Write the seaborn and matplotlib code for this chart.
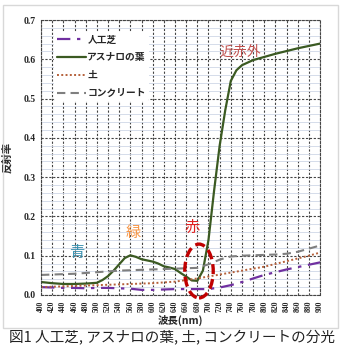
import numpy as np
import pandas as pd
import matplotlib
matplotlib.use('Agg')
import matplotlib.pyplot as plt
import seaborn as sns
from matplotlib.patches import Ellipse, Rectangle
from matplotlib.ticker import MultipleLocator

# data
wl = [400, 420, 440, 460, 480, 500, 520, 540, 560, 580, 600, 620, 640,
      660, 680, 700, 720, 740, 760, 780, 800, 820, 840, 860, 880, 900]
turf = [0.020, 0.019, 0.018, 0.018, 0.017, 0.018, 0.018, 0.017, 0.016, 0.013, 0.013, 0.014, 0.015,
        0.015, 0.015, 0.015, 0.019, 0.025, 0.033, 0.042, 0.051, 0.058, 0.065, 0.071, 0.077, 0.083]
soil = [0.020, 0.021, 0.022, 0.023, 0.024, 0.025, 0.026, 0.027, 0.028, 0.029, 0.030, 0.032, 0.034,
        0.038, 0.042, 0.047, 0.052, 0.057, 0.062, 0.067, 0.072, 0.079, 0.086, 0.093, 0.100, 0.108]
concrete = [0.051, 0.052, 0.053, 0.054, 0.056, 0.058, 0.060, 0.062, 0.063, 0.064, 0.065, 0.066, 0.067,
            0.068, 0.069, 0.078, 0.090, 0.098, 0.100, 0.101, 0.102, 0.103, 0.105, 0.110, 0.118, 0.126]

wl_leaf = [400, 420, 440, 460, 480, 500, 510, 520, 530, 540, 550, 560, 570, 580, 590, 600, 610,
           620, 630, 640, 650, 660, 670, 680, 690, 700, 710, 720, 730, 740, 750, 760, 780,
           800, 820, 840, 860, 880, 900]
leaf = [0.033, 0.030, 0.028, 0.028, 0.029, 0.031, 0.038, 0.048, 0.062, 0.078, 0.094, 0.101, 0.097,
        0.091, 0.088, 0.085, 0.080, 0.073, 0.070, 0.066, 0.056, 0.047, 0.037, 0.036, 0.062, 0.140,
        0.265, 0.380, 0.470, 0.545, 0.572, 0.585, 0.598, 0.606, 0.614, 0.621, 0.628, 0.634, 0.640]

labels = ['人工芝', 'アスナロの葉', '土', 'コンクリート']

sns.set_style('white')
plt.rcParams['font.family'] = ['Noto Sans CJK JP', 'DejaVu Sans']

fig = plt.figure(figsize=(3.42, 3.45), dpi=100)
ax = fig.add_axes([0.12, 0.145, 0.816, 0.797])

# outer light border of the figure
fig.patches.append(Rectangle((0.009, 0.049), 0.98, 0.936, transform=fig.transFigure,
                             fill=False, edgecolor='#d8d8d8', linewidth=1.0))

df_other = pd.DataFrame({'wl': wl, 'turf': turf, 'soil': soil, 'concrete': concrete})
df_leaf = pd.DataFrame({'wl': wl_leaf, 'leaf': leaf})

sns.lineplot(data=df_other, x='wl', y='turf', ax=ax, color='#7030a0', lw=1.6,
             linestyle=(0, (6, 3, 1.5, 3)), label=labels[0])
sns.lineplot(data=df_leaf, x='wl', y='leaf', ax=ax, color='#3b5a22', lw=1.6, label=labels[1])
sns.lineplot(data=df_other, x='wl', y='soil', ax=ax, color='#b5603a', lw=1.4,
             linestyle=(0, (1, 1.2)), label=labels[2])
sns.lineplot(data=df_other, x='wl', y='concrete', ax=ax, color='#7f7f7f', lw=1.5,
             linestyle=(0, (4, 2.5)), label=labels[3])

ax.set_xlim(400, 900)
ax.set_ylim(0, 0.7)
ax.xaxis.set_major_locator(MultipleLocator(20))
ax.yaxis.set_major_locator(MultipleLocator(0.1))
ax.yaxis.set_minor_locator(MultipleLocator(0.02))
ax.grid(which='minor', axis='y', color='#cfd7e6', lw=0.6, linestyle='-')
ax.grid(which='major', axis='both', color='#444444', lw=0.8, linestyle=(0, (2, 1.5)))
ax.set_axisbelow(True)
for s in ax.spines.values():
    s.set_color('#444444')
    s.set_linewidth(0.8)
    s.set_linestyle((0, (2, 1.5)))

ax.set_xticks(wl)
ax.set_xticklabels([str(w) for w in wl], rotation=90, fontsize=5.5,
                   family='Liberation Serif', fontweight='bold')
ax.set_yticks([0, 0.1, 0.2, 0.3, 0.4, 0.5, 0.6, 0.7])
ax.set_yticklabels(['0.0', '0.1', '0.2', '0.3', '0.4', '0.5', '0.6', '0.7'], fontsize=7,
                   family='Liberation Serif', fontweight='bold')
ax.tick_params(axis='both', which='both', length=0, pad=4)

ax.set_xlabel('波長(nm)', fontsize=7.5, fontweight='bold', labelpad=2)
ax.set_ylabel('反射率', fontsize=7.5, fontweight='bold', labelpad=8)

leg = ax.legend(loc='upper left', bbox_to_anchor=(0.03, 0.975), frameon=True, framealpha=1,
                edgecolor='none', handlelength=3.0, handletextpad=0.1,
                labelspacing=0.8, borderpad=0.3, prop={'weight': 'bold', 'size': 7})

# region annotations
ax.text(757, 0.619, '近赤外', color='#c0504d', fontsize=10, ha='center', va='center', zorder=6)
ax.text(464, 0.107, '青', color='#3b91b0', fontsize=11, ha='center', va='center', zorder=6)
ax.text(565, 0.158, '緑', color='#f79646', fontsize=11, ha='center', va='center', zorder=6)
ax.text(670, 0.173, '赤', color='#e02020', fontsize=11, ha='center', va='center', zorder=6)
ax.add_patch(Ellipse((683, 0.061), 51, 0.137, fill=False, edgecolor='#c00000', lw=2.4,
                     linestyle=(0, (3, 1.5)), clip_on=False, zorder=5))

fig.text(0.025, 0.025, '図1 人工芝, アスナロの葉, 土, コンクリートの分光', fontsize=10.5,
         ha='left', va='center', color='#222222')

fig.savefig('out.png', dpi=100)
